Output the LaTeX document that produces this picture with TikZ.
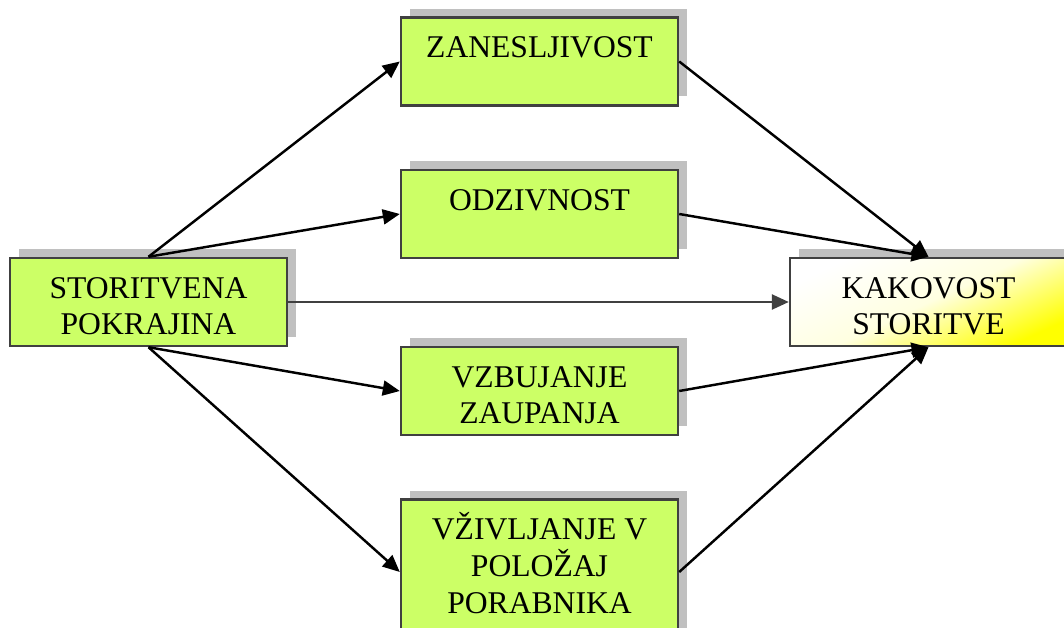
\documentclass[tikz,border=0pt]{standalone}
\usepackage{fontspec}
\setmainfont{Liberation Serif}
\usepackage{tikz}
\definecolor{mBoxGreen}{HTML}{CCFF66}
\definecolor{mEdge}{HTML}{404040}
\definecolor{mShadow}{HTML}{C0C0C0}
\usetikzlibrary{arrows.meta, shadows}
\newcommand{\boxtext}[2][1.76cm]{\parbox[c][#1][t]{5.54cm}{\centering\rule{0pt}{0.8cm}#2}}
\tikzstyle{factor} = [rectangle, inner sep=0pt, draw=mEdge, line width=1.4pt,%
fill=mBoxGreen, drop shadow={shadow xshift=0.18cm, shadow yshift=0.18cm, fill=mShadow, opacity=1},%
font=\fontsize{18}{21}\selectfont]
\tikzstyle{result} = [factor, top color=white, bottom color=yellow, middle color=yellow!12,%
shading angle=25]
\tikzstyle{arrow} = [line width=1.4pt, -{Triangle[length=0.34cm, width=0.3cm]}]

\begin{document}
\begin{tikzpicture}[x=0.02cm, y=-0.02cm]
    \useasboundingbox (0,0) rectangle (1064,628);
    \clip (0,0) rectangle (1064,628);

    \node (region) [factor] at (148.5,302) {\boxtext{STORITVENA\\POKRAJINA}};
    \node (reliab) [factor] at (539.5,61.5) {\boxtext{ZANESLJIVOST}};
    \node (respon) [factor] at (539.5,214) {\boxtext{ODZIVNOST}};
    \node (trust) [factor] at (539.5,391) {\boxtext{VZBUJANJE\\ZAUPANJA}};
    \node (empathy) [factor] at (539.5,572) {\boxtext[2.9cm]{VŽIVLJANJE V\\POLOŽAJ\\PORABNIKA}};
    \node (quality) [result] at (928.5,302) {\boxtext{KAKOVOST\\STORITVE}};

    \draw [arrow] (region.north) -- (reliab.west);
    \draw [arrow] (region.north) -- (respon.west);
    \draw [arrow, mEdge] (region.east) -- (quality.west);
    \draw [arrow] (region.south) -- (trust.west);
    \draw [arrow] (region.south) -- (empathy.west);

    \draw [arrow] (reliab.east) -- (quality.north);
    \draw [arrow] (respon.east) -- (quality.north);
    \draw [arrow] (trust.east) -- (quality.south);
    \draw [arrow] (empathy.east) -- (quality.south);
\end{tikzpicture}
\end{document}
